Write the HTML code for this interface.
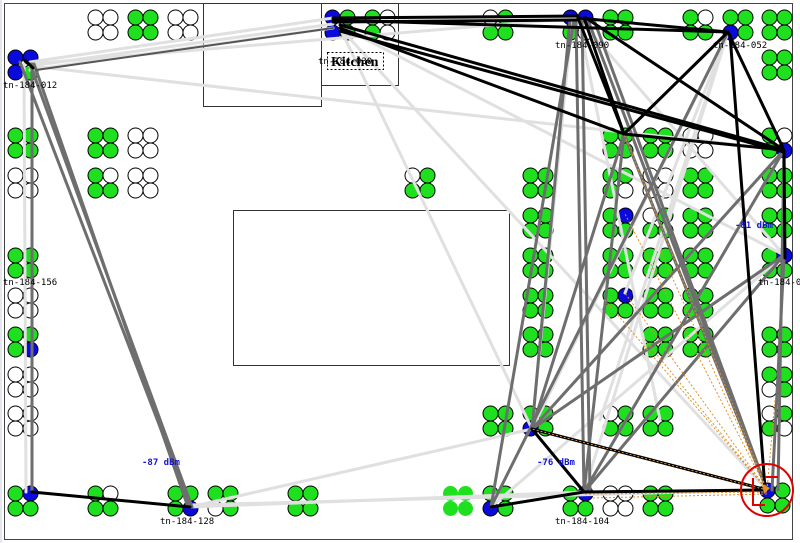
<!DOCTYPE html>
<html><head><meta charset="utf-8"><style>
html,body{margin:0;padding:0;background:#fff;}
svg{display:block;}
.lt{stroke:#e0e0e0;stroke-width:3;fill:none;stroke-linecap:round}
.dg{stroke:#6e6e6e;stroke-width:3;fill:none;stroke-linecap:round}
.bk{stroke:#000;stroke-width:3;fill:none;stroke-linecap:round}
.or{stroke:#e0902a;stroke-width:1;fill:none;stroke-dasharray:2 2}
.lb{font-family:"DejaVu Sans Mono","Liberation Mono",monospace;font-size:9px;fill:#000}
.db{font-family:"DejaVu Sans Mono","Liberation Mono",monospace;font-size:9px;font-weight:bold;fill:#1515d0}
</style></head><body>
<svg width="800" height="543" viewBox="0 0 800 543" xmlns="http://www.w3.org/2000/svg">
<defs>
<circle id="g" r="7.5" fill="#1ee01e" stroke="#000" stroke-width="1"/>
<circle id="w" r="7.5" fill="#fff" stroke="#000" stroke-width="1"/>
<circle id="b" r="7.5" fill="#0a0adc" stroke="#000" stroke-width="1"/>
<circle id="n" r="7.5" fill="#1ee01e"/>
</defs>
<rect width="800" height="543" fill="#fff"/>
<line x1="1" y1="0" x2="1" y2="543" stroke="#c8d0d8" stroke-width="1"/>
<rect x="4.5" y="3.5" width="788" height="536" fill="none" stroke="#444" stroke-width="1"/>
<!-- rooms -->
<rect x="203.5" y="3.5" width="118" height="103" fill="none" stroke="#333" stroke-width="1"/>
<rect x="321.5" y="3.5" width="77" height="82" fill="none" stroke="#333" stroke-width="1"/>
<rect x="233.5" y="210.5" width="276" height="155" fill="none" stroke="#333" stroke-width="1"/>

<!-- clusters -->
<g id="clusters">
<!-- row 10 -->
<g transform="translate(88,10)"><use href="#w" x="7.5" y="7.5"/><use href="#w" x="22.5" y="7.5"/><use href="#w" x="7.5" y="22.5"/><use href="#w" x="22.5" y="22.5"/></g>
<g transform="translate(128,10)"><use href="#g" x="7.5" y="7.5"/><use href="#g" x="22.5" y="7.5"/><use href="#g" x="7.5" y="22.5"/><use href="#g" x="22.5" y="22.5"/></g>
<g transform="translate(168,10)"><use href="#w" x="7.5" y="7.5"/><use href="#w" x="22.5" y="7.5"/><use href="#w" x="7.5" y="22.5"/><use href="#w" x="22.5" y="22.5"/></g>
<g transform="translate(325,10)"><use href="#b" x="7.5" y="7.5"/><use href="#g" x="22.5" y="7.5"/><use href="#b" x="7.5" y="22.5"/><use href="#g" x="22.5" y="22.5"/></g>
<g transform="translate(365,10)"><use href="#g" x="7.5" y="7.5"/><use href="#w" x="22.5" y="7.5"/><use href="#g" x="7.5" y="22.5"/><use href="#w" x="22.5" y="22.5"/></g>
<g transform="translate(483,10)"><use href="#w" x="7.5" y="7.5"/><use href="#g" x="22.5" y="7.5"/><use href="#g" x="7.5" y="22.5"/><use href="#g" x="22.5" y="22.5"/></g>
<g transform="translate(563,10)"><use href="#b" x="7.5" y="7.5"/><use href="#b" x="22.5" y="7.5"/><use href="#g" x="7.5" y="22.5"/><use href="#w" x="22.5" y="22.5"/></g>
<g transform="translate(603,10)"><use href="#g" x="7.5" y="7.5"/><use href="#g" x="22.5" y="7.5"/><use href="#g" x="7.5" y="22.5"/><use href="#g" x="22.5" y="22.5"/></g>
<g transform="translate(683,10)"><use href="#g" x="7.5" y="7.5"/><use href="#w" x="22.5" y="7.5"/><use href="#g" x="7.5" y="22.5"/><use href="#g" x="22.5" y="22.5"/></g>
<g transform="translate(723,10)"><use href="#g" x="7.5" y="7.5"/><use href="#g" x="22.5" y="7.5"/><use href="#b" x="7.5" y="22.5"/><use href="#g" x="22.5" y="22.5"/></g>
<g transform="translate(762,10)"><use href="#g" x="7.5" y="7.5"/><use href="#g" x="22.5" y="7.5"/><use href="#g" x="7.5" y="22.5"/><use href="#g" x="22.5" y="22.5"/></g>
<!-- row 50 -->
<g transform="translate(8,50)"><use href="#b" x="7.5" y="7.5"/><use href="#b" x="22.5" y="7.5"/><use href="#b" x="7.5" y="22.5"/><use href="#g" x="22.5" y="22.5"/></g>
<g transform="translate(762,50)"><use href="#g" x="7.5" y="7.5"/><use href="#g" x="22.5" y="7.5"/><use href="#g" x="7.5" y="22.5"/><use href="#g" x="22.5" y="22.5"/></g>
<!-- row 128 -->
<g transform="translate(8,128)"><use href="#g" x="7.5" y="7.5"/><use href="#g" x="22.5" y="7.5"/><use href="#g" x="7.5" y="22.5"/><use href="#g" x="22.5" y="22.5"/></g>
<g transform="translate(88,128)"><use href="#g" x="7.5" y="7.5"/><use href="#g" x="22.5" y="7.5"/><use href="#g" x="7.5" y="22.5"/><use href="#g" x="22.5" y="22.5"/></g>
<g transform="translate(128,128)"><use href="#w" x="7.5" y="7.5"/><use href="#w" x="22.5" y="7.5"/><use href="#w" x="7.5" y="22.5"/><use href="#w" x="22.5" y="22.5"/></g>
<g transform="translate(603,128)"><use href="#g" x="7.5" y="7.5"/><use href="#g" x="22.5" y="7.5"/><use href="#g" x="7.5" y="22.5"/><use href="#g" x="22.5" y="22.5"/></g>
<g transform="translate(643,128)"><use href="#g" x="7.5" y="7.5"/><use href="#g" x="22.5" y="7.5"/><use href="#g" x="7.5" y="22.5"/><use href="#g" x="22.5" y="22.5"/></g>
<g transform="translate(683,128)"><use href="#w" x="7.5" y="7.5"/><use href="#w" x="22.5" y="7.5"/><use href="#w" x="7.5" y="22.5"/><use href="#w" x="22.5" y="22.5"/></g>
<g transform="translate(762,128)"><use href="#g" x="7.5" y="7.5"/><use href="#w" x="22.5" y="7.5"/><use href="#g" x="7.5" y="22.5"/><use href="#b" x="22.5" y="22.5"/></g>
<!-- row 168 -->
<g transform="translate(8,168)"><use href="#w" x="7.5" y="7.5"/><use href="#w" x="22.5" y="7.5"/><use href="#w" x="7.5" y="22.5"/><use href="#w" x="22.5" y="22.5"/></g>
<g transform="translate(88,168)"><use href="#g" x="7.5" y="7.5"/><use href="#w" x="22.5" y="7.5"/><use href="#g" x="7.5" y="22.5"/><use href="#g" x="22.5" y="22.5"/></g>
<g transform="translate(128,168)"><use href="#w" x="7.5" y="7.5"/><use href="#w" x="22.5" y="7.5"/><use href="#w" x="7.5" y="22.5"/><use href="#w" x="22.5" y="22.5"/></g>
<g transform="translate(405,168)"><use href="#w" x="7.5" y="7.5"/><use href="#g" x="22.5" y="7.5"/><use href="#g" x="7.5" y="22.5"/><use href="#g" x="22.5" y="22.5"/></g>
<g transform="translate(523,168)"><use href="#g" x="7.5" y="7.5"/><use href="#g" x="22.5" y="7.5"/><use href="#g" x="7.5" y="22.5"/><use href="#g" x="22.5" y="22.5"/></g>
<g transform="translate(603,168)"><use href="#g" x="7.5" y="7.5"/><use href="#g" x="22.5" y="7.5"/><use href="#g" x="7.5" y="22.5"/><use href="#w" x="22.5" y="22.5"/></g>
<g transform="translate(643,168)"><use href="#w" x="7.5" y="7.5"/><use href="#w" x="22.5" y="7.5"/><use href="#w" x="7.5" y="22.5"/><use href="#w" x="22.5" y="22.5"/></g>
<g transform="translate(683,168)"><use href="#g" x="7.5" y="7.5"/><use href="#g" x="22.5" y="7.5"/><use href="#g" x="7.5" y="22.5"/><use href="#g" x="22.5" y="22.5"/></g>
<g transform="translate(762,168)"><use href="#g" x="7.5" y="7.5"/><use href="#g" x="22.5" y="7.5"/><use href="#g" x="7.5" y="22.5"/><use href="#g" x="22.5" y="22.5"/></g>
<!-- row 208 -->
<g transform="translate(523,208)"><use href="#g" x="7.5" y="7.5"/><use href="#g" x="22.5" y="7.5"/><use href="#g" x="7.5" y="22.5"/><use href="#g" x="22.5" y="22.5"/></g>
<g transform="translate(603,208)"><use href="#g" x="7.5" y="7.5"/><use href="#b" x="22.5" y="7.5"/><use href="#g" x="7.5" y="22.5"/><use href="#g" x="22.5" y="22.5"/></g>
<g transform="translate(643,208)"><use href="#w" x="7.5" y="7.5"/><use href="#g" x="22.5" y="7.5"/><use href="#g" x="7.5" y="22.5"/><use href="#g" x="22.5" y="22.5"/></g>
<g transform="translate(683,208)"><use href="#g" x="7.5" y="7.5"/><use href="#g" x="22.5" y="7.5"/><use href="#g" x="7.5" y="22.5"/><use href="#g" x="22.5" y="22.5"/></g>
<g transform="translate(762,208)"><use href="#g" x="7.5" y="7.5"/><use href="#g" x="22.5" y="7.5"/><use href="#g" x="7.5" y="22.5"/><use href="#g" x="22.5" y="22.5"/></g>
<!-- row 248 -->
<g transform="translate(8,248)"><use href="#g" x="7.5" y="7.5"/><use href="#g" x="22.5" y="7.5"/><use href="#g" x="7.5" y="22.5"/><use href="#g" x="22.5" y="22.5"/></g>
<g transform="translate(523,248)"><use href="#g" x="7.5" y="7.5"/><use href="#g" x="22.5" y="7.5"/><use href="#g" x="7.5" y="22.5"/><use href="#g" x="22.5" y="22.5"/></g>
<g transform="translate(603,248)"><use href="#g" x="7.5" y="7.5"/><use href="#g" x="22.5" y="7.5"/><use href="#g" x="7.5" y="22.5"/><use href="#g" x="22.5" y="22.5"/></g>
<g transform="translate(643,248)"><use href="#g" x="7.5" y="7.5"/><use href="#g" x="22.5" y="7.5"/><use href="#g" x="7.5" y="22.5"/><use href="#g" x="22.5" y="22.5"/></g>
<g transform="translate(683,248)"><use href="#g" x="7.5" y="7.5"/><use href="#g" x="22.5" y="7.5"/><use href="#g" x="7.5" y="22.5"/><use href="#g" x="22.5" y="22.5"/></g>
<g transform="translate(762,248)"><use href="#g" x="7.5" y="7.5"/><use href="#b" x="22.5" y="7.5"/><use href="#g" x="7.5" y="22.5"/><use href="#g" x="22.5" y="22.5"/></g>
<!-- row 288 -->
<g transform="translate(8,288)"><use href="#w" x="7.5" y="7.5"/><use href="#w" x="22.5" y="7.5"/><use href="#w" x="7.5" y="22.5"/><use href="#w" x="22.5" y="22.5"/></g>
<g transform="translate(523,288)"><use href="#g" x="7.5" y="7.5"/><use href="#g" x="22.5" y="7.5"/><use href="#g" x="7.5" y="22.5"/><use href="#g" x="22.5" y="22.5"/></g>
<g transform="translate(603,288)"><use href="#g" x="7.5" y="7.5"/><use href="#b" x="22.5" y="7.5"/><use href="#g" x="7.5" y="22.5"/><use href="#g" x="22.5" y="22.5"/></g>
<g transform="translate(643,288)"><use href="#g" x="7.5" y="7.5"/><use href="#g" x="22.5" y="7.5"/><use href="#g" x="7.5" y="22.5"/><use href="#g" x="22.5" y="22.5"/></g>
<g transform="translate(683,288)"><use href="#g" x="7.5" y="7.5"/><use href="#g" x="22.5" y="7.5"/><use href="#g" x="7.5" y="22.5"/><use href="#g" x="22.5" y="22.5"/></g>
<!-- row 327 -->
<g transform="translate(8,327)"><use href="#g" x="7.5" y="7.5"/><use href="#g" x="22.5" y="7.5"/><use href="#g" x="7.5" y="22.5"/><use href="#b" x="22.5" y="22.5"/></g>
<g transform="translate(523,327)"><use href="#g" x="7.5" y="7.5"/><use href="#g" x="22.5" y="7.5"/><use href="#g" x="7.5" y="22.5"/><use href="#g" x="22.5" y="22.5"/></g>
<g transform="translate(643,327)"><use href="#g" x="7.5" y="7.5"/><use href="#g" x="22.5" y="7.5"/><use href="#g" x="7.5" y="22.5"/><use href="#g" x="22.5" y="22.5"/></g>
<g transform="translate(683,327)"><use href="#g" x="7.5" y="7.5"/><use href="#g" x="22.5" y="7.5"/><use href="#g" x="7.5" y="22.5"/><use href="#g" x="22.5" y="22.5"/></g>
<g transform="translate(762,327)"><use href="#g" x="7.5" y="7.5"/><use href="#g" x="22.5" y="7.5"/><use href="#g" x="7.5" y="22.5"/><use href="#g" x="22.5" y="22.5"/></g>
<!-- row 367 -->
<g transform="translate(8,367)"><use href="#w" x="7.5" y="7.5"/><use href="#w" x="22.5" y="7.5"/><use href="#w" x="7.5" y="22.5"/><use href="#w" x="22.5" y="22.5"/></g>
<g transform="translate(762,367)"><use href="#g" x="7.5" y="7.5"/><use href="#g" x="22.5" y="7.5"/><use href="#w" x="7.5" y="22.5"/><use href="#g" x="22.5" y="22.5"/></g>
<!-- row 406 -->
<g transform="translate(8,406)"><use href="#w" x="7.5" y="7.5"/><use href="#w" x="22.5" y="7.5"/><use href="#w" x="7.5" y="22.5"/><use href="#w" x="22.5" y="22.5"/></g>
<g transform="translate(483,406)"><use href="#g" x="7.5" y="7.5"/><use href="#g" x="22.5" y="7.5"/><use href="#g" x="7.5" y="22.5"/><use href="#g" x="22.5" y="22.5"/></g>
<g transform="translate(523,406)"><use href="#g" x="7.5" y="7.5"/><use href="#g" x="22.5" y="7.5"/><use href="#b" x="7.5" y="22.5"/><use href="#g" x="22.5" y="22.5"/></g>
<g transform="translate(603,406)"><use href="#w" x="7.5" y="7.5"/><use href="#g" x="22.5" y="7.5"/><use href="#g" x="7.5" y="22.5"/><use href="#g" x="22.5" y="22.5"/></g>
<g transform="translate(643,406)"><use href="#g" x="7.5" y="7.5"/><use href="#g" x="22.5" y="7.5"/><use href="#g" x="7.5" y="22.5"/><use href="#g" x="22.5" y="22.5"/></g>
<g transform="translate(762,406)"><use href="#w" x="7.5" y="7.5"/><use href="#g" x="22.5" y="7.5"/><use href="#g" x="7.5" y="22.5"/><use href="#w" x="22.5" y="22.5"/></g>
<!-- row 486 -->
<g transform="translate(8,486)"><use href="#g" x="7.5" y="7.5"/><use href="#b" x="22.5" y="7.5"/><use href="#g" x="7.5" y="22.5"/><use href="#g" x="22.5" y="22.5"/></g>
<g transform="translate(88,486)"><use href="#g" x="7.5" y="7.5"/><use href="#w" x="22.5" y="7.5"/><use href="#g" x="7.5" y="22.5"/><use href="#g" x="22.5" y="22.5"/></g>
<g transform="translate(168,486)"><use href="#g" x="7.5" y="7.5"/><use href="#g" x="22.5" y="7.5"/><use href="#g" x="7.5" y="22.5"/><use href="#b" x="22.5" y="22.5"/></g>
<g transform="translate(208,486)"><use href="#g" x="7.5" y="7.5"/><use href="#g" x="22.5" y="7.5"/><use href="#w" x="7.5" y="22.5"/><use href="#g" x="22.5" y="22.5"/></g>
<g transform="translate(288,486)"><use href="#g" x="7.5" y="7.5"/><use href="#g" x="22.5" y="7.5"/><use href="#g" x="7.5" y="22.5"/><use href="#g" x="22.5" y="22.5"/></g>
<g transform="translate(443,486)"><use href="#n" x="7.5" y="7.5"/><use href="#n" x="22.5" y="7.5"/><use href="#n" x="7.5" y="22.5"/><use href="#n" x="22.5" y="22.5"/></g>
<g transform="translate(483,486)"><use href="#g" x="7.5" y="7.5"/><use href="#g" x="22.5" y="7.5"/><use href="#b" x="7.5" y="22.5"/><use href="#g" x="22.5" y="22.5"/></g>
<g transform="translate(563,486)"><use href="#g" x="7.5" y="7.5"/><use href="#b" x="22.5" y="7.5"/><use href="#g" x="7.5" y="22.5"/><use href="#g" x="22.5" y="22.5"/></g>
<g transform="translate(603,486)"><use href="#w" x="7.5" y="7.5"/><use href="#w" x="22.5" y="7.5"/><use href="#w" x="7.5" y="22.5"/><use href="#w" x="22.5" y="22.5"/></g>
<g transform="translate(643,486)"><use href="#g" x="7.5" y="7.5"/><use href="#g" x="22.5" y="7.5"/><use href="#g" x="7.5" y="22.5"/><use href="#g" x="22.5" y="22.5"/></g>
<g transform="translate(760,483)"><use href="#b" x="7.5" y="7.5"/><use href="#g" x="22.5" y="7.5"/><use href="#g" x="7.5" y="22.5"/><use href="#g" x="22.5" y="22.5"/></g>
</g>

<!-- light grey links -->
<g class="lt">
<line x1="24" y1="64" x2="26" y2="492"/>
<line x1="30" y1="62" x2="333" y2="18"/>
<line x1="30" y1="66" x2="333" y2="24"/>
<line x1="30" y1="70" x2="333" y2="28"/>
<line x1="30" y1="64" x2="578" y2="18"/>
<line x1="30" y1="66" x2="784" y2="150"/>
<line x1="340" y1="28" x2="532" y2="429"/>
<line x1="340" y1="28" x2="767" y2="490"/>
<line x1="340" y1="26" x2="784" y2="255"/>
<line x1="333" y1="22" x2="578" y2="18"/>
<line x1="190" y1="507" x2="532" y2="429"/>
<line x1="190" y1="507" x2="584" y2="492"/>
<line x1="190" y1="505" x2="767" y2="490"/>
<line x1="728" y1="32" x2="532" y2="429"/>
<line x1="728" y1="32" x2="584" y2="492"/>
<line x1="728" y1="32" x2="491" y2="507"/>
<line x1="728" y1="32" x2="625" y2="293"/>
<line x1="578" y1="18" x2="784" y2="255"/>
<line x1="578" y1="18" x2="660" y2="420"/>
<line x1="784" y1="255" x2="491" y2="507"/>
<line x1="784" y1="150" x2="584" y2="492"/>
<line x1="572" y1="20" x2="532" y2="429"/>
<line x1="728" y1="32" x2="600" y2="420"/>
<line x1="532" y1="429" x2="784" y2="150"/>
</g>
<!-- dark grey links -->
<g class="dg">
<line x1="32" y1="64" x2="32" y2="492"/>
<line x1="20" y1="62" x2="190" y2="505"/>
<line x1="30" y1="64" x2="192" y2="507"/>
<line x1="34" y1="64" x2="188" y2="507"/>
<line x1="36" y1="70" x2="333" y2="28" stroke="#555" stroke-width="2"/>
<line x1="570" y1="20" x2="532" y2="429"/>
<line x1="576" y1="20" x2="584" y2="492"/>
<line x1="582" y1="20" x2="590" y2="492"/>
<line x1="574" y1="20" x2="491" y2="507"/>
<line x1="588" y1="20" x2="767" y2="490"/>
<line x1="594" y1="20" x2="767" y2="490"/>
<line x1="624" y1="134" x2="532" y2="429"/>
<line x1="624" y1="134" x2="584" y2="492"/>
<line x1="624" y1="134" x2="767" y2="490"/>
<line x1="784" y1="150" x2="532" y2="429"/>
<line x1="784" y1="150" x2="584" y2="492"/>
<line x1="784" y1="255" x2="532" y2="429"/>
<line x1="784" y1="255" x2="584" y2="492"/>
<line x1="784" y1="258" x2="772" y2="490"/>
<line x1="784" y1="150" x2="778" y2="490"/>
<line x1="491" y1="507" x2="728" y2="32"/>
</g>
<!-- black links -->
<g class="bk">
<line x1="32" y1="492" x2="190" y2="507"/>
<line x1="491" y1="507" x2="584" y2="492"/>
<line x1="584" y1="492" x2="767" y2="490"/>
<line x1="532" y1="429" x2="767" y2="490"/>
<line x1="532" y1="429" x2="584" y2="492"/>
<line x1="333" y1="18" x2="578" y2="16"/>
<line x1="333" y1="22" x2="578" y2="20"/>
<line x1="333" y1="20" x2="728" y2="32"/>
<line x1="340" y1="28" x2="624" y2="134"/>
<line x1="340" y1="25" x2="784" y2="150"/>
<line x1="340" y1="31" x2="784" y2="152"/>
<line x1="578" y1="18" x2="728" y2="32"/>
<line x1="578" y1="18" x2="624" y2="134"/>
<line x1="584" y1="18" x2="624" y2="134"/>
<line x1="586" y1="18" x2="784" y2="150"/>
<line x1="728" y1="32" x2="624" y2="134"/>
<line x1="728" y1="32" x2="784" y2="150"/>
<line x1="730" y1="35" x2="765" y2="488"/>
<line x1="624" y1="134" x2="784" y2="150"/>
<line x1="784" y1="150" x2="785" y2="258"/>
<line x1="25" y1="60" x2="33" y2="68"/>
</g>
<!-- orange dashed -->
<g class="or">
<line x1="767" y1="490" x2="532" y2="429"/>
<line x1="767" y1="492" x2="584" y2="494"/>
<line x1="767" y1="490" x2="625" y2="293"/>
<line x1="767" y1="490" x2="625" y2="214"/>
<line x1="767" y1="490" x2="624" y2="134"/>
<line x1="767" y1="490" x2="605" y2="300"/>
<line x1="767" y1="490" x2="660" y2="250"/>
<line x1="767" y1="490" x2="645" y2="340"/>
<line x1="767" y1="490" x2="775" y2="400"/>
<line x1="767" y1="494" x2="592" y2="498"/>
</g>
<!-- red marker -->
<circle cx="767" cy="490" r="26" fill="none" stroke="#e00000" stroke-width="2"/>
<path d="M765 477 H778 M753 478 V505 H765" fill="none" stroke="#e00000" stroke-width="2"/>
<path d="M762 484 L770 488 L764 494 Z" fill="#e0902a"/>

<!-- labels -->
<text class="lb" x="3" y="88">tn-184-012</text>
<text class="lb" x="3" y="285">tn-184-156</text>
<text class="lb" x="160" y="524">tn-184-128</text>
<text class="lb" x="555" y="524">tn-184-104</text>
<text class="lb" x="713" y="48">tn-184-052</text>
<text class="lb" x="555" y="48">tn-184-090</text>
<text class="lb" x="758" y="285">tn-184-076</text>
<text class="lb" x="318" y="64">tn-184-030</text>
<rect x="327.5" y="52.5" width="56" height="17" fill="none" stroke="#000" stroke-width="1" stroke-dasharray="2 2"/>
<text x="331" y="66" font-family="Liberation Serif, serif" font-weight="bold" font-size="14" fill="#000">Kitchen</text>
<text class="db" x="142" y="465">-87 dBm</text>
<text class="db" x="537" y="465">-76 dBm</text>
<text class="db" x="735" y="228">-81 dBm</text>
</svg>
</body></html>
